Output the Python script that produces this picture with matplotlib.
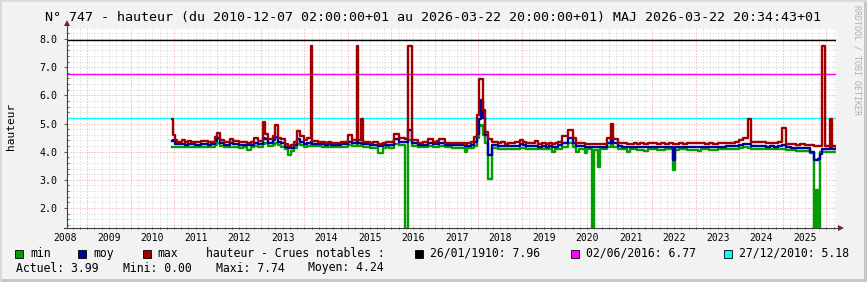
import matplotlib
matplotlib.use("Agg")
import matplotlib.pyplot as plt
from matplotlib.ticker import MultipleLocator, FixedLocator
from matplotlib.patches import Rectangle, Polygon
from matplotlib.lines import Line2D
import matplotlib.transforms as mtransforms

# hauteur station 747 : min / moy / max (annees decimales)
t = [2010.95, 2010.98, 2011.02, 2011.08, 2011.18, 2011.25, 2011.32, 2011.40, 2011.48, 2011.55,
     2011.62, 2011.70, 2011.78, 2011.85, 2011.95, 2012.00, 2012.06, 2012.14, 2012.28, 2012.36,
     2012.50, 2012.58, 2012.68, 2012.76, 2012.84, 2012.92, 2013.05, 2013.10, 2013.16, 2013.28,
     2013.33, 2013.38, 2013.46, 2013.56, 2013.62, 2013.68, 2013.76, 2013.83, 2013.90, 2013.98,
     2014.06, 2014.15, 2014.18, 2014.32, 2014.40, 2014.48, 2014.55, 2014.62, 2014.70, 2014.78,
     2014.85, 2014.92, 2015.00, 2015.10, 2015.20, 2015.23, 2015.31, 2015.34, 2015.50, 2015.58,
     2015.69, 2015.80, 2015.88, 2015.95, 2016.06, 2016.18, 2016.31, 2016.37, 2016.48, 2016.62,
     2016.72, 2016.84, 2016.95, 2017.05, 2017.10, 2017.22, 2017.30, 2017.40, 2017.52, 2017.68,
     2017.74, 2017.82, 2017.90, 2017.96, 2018.01, 2018.05, 2018.10, 2018.15, 2018.21, 2018.32,
     2018.45, 2018.52, 2018.60, 2018.68, 2018.75, 2018.85, 2018.95, 2019.02, 2019.10, 2019.20,
     2019.30, 2019.38, 2019.45, 2019.55, 2019.62, 2019.70, 2019.76, 2019.84, 2019.92, 2020.05,
     2020.17, 2020.25, 2020.32, 2020.45, 2020.50, 2020.61, 2020.66, 2020.75, 2020.80, 2020.95,
     2021.05, 2021.10, 2021.20, 2021.30, 2021.41, 2021.48, 2021.58, 2021.65, 2021.72, 2021.80,
     2021.90, 2022.00, 2022.10, 2022.20, 2022.30, 2022.38, 2022.47, 2022.52, 2022.62, 2022.70,
     2022.80, 2022.90, 2023.05, 2023.12, 2023.20, 2023.30, 2023.40, 2023.50, 2023.60, 2023.70,
     2023.80, 2023.90, 2024.00, 2024.08, 2024.20, 2024.26, 2024.36, 2024.45, 2024.52, 2024.60,
     2024.70, 2024.80, 2024.88, 2024.98, 2025.06, 2025.18, 2025.30, 2025.40, 2025.50, 2025.62,
     2025.71, 2025.755, 2025.80, 2025.86, 2025.90, 2025.97, 2026.08, 2026.13, 2026.21]

h_min = [4.15, 4.18, 4.16, 4.15, 4.16, 4.15, 4.17, 4.16, 4.15, 4.15,
         4.16, 4.16, 4.15, 4.15, 4.22, 4.30, 4.20, 4.15, 4.18, 4.16,
         4.14, 4.15, 4.06, 4.15, 4.20, 4.16, 4.28, 4.30, 4.20, 4.22,
         4.30, 4.22, 4.18, 4.10, 3.88, 4.02, 4.12, 4.28, 4.22, 4.18,
         4.20, 4.22, 4.20, 4.19, 4.18, 4.17, 4.17, 4.16, 4.16, 4.17,
         4.17, 4.18, 4.24, 4.20, 4.22, 4.20, 4.22, 4.18, 4.13, 4.14,
         3.94, 4.12, 4.15, 4.14, 4.28, 4.24, 0.00, 4.40, 4.20, 4.15,
         4.16, 4.20, 4.16, 4.17, 4.20, 4.15, 4.15, 4.14, 4.14, 4.00,
         4.12, 4.14, 4.20, 4.50, 4.90, 4.95, 4.60, 4.30, 3.03, 4.12,
         4.10, 4.11, 4.09, 4.10, 4.10, 4.09, 4.14, 4.12, 4.10, 4.09,
         4.09, 4.08, 4.09, 4.08, 4.08, 4.00, 4.08, 4.10, 4.15, 4.30,
         4.18, 4.00, 4.08, 3.94, 4.08, 0.00, 4.07, 3.45, 4.08, 4.15,
         4.30, 4.18, 4.08, 4.08, 4.00, 4.08, 4.08, 4.07, 4.07, 4.02,
         4.08, 4.08, 4.07, 4.07, 4.08, 4.08, 3.35, 4.07, 4.08, 4.08,
         4.07, 4.07, 4.02, 4.08, 4.08, 4.07, 4.07, 4.08, 4.08, 4.08,
         4.09, 4.10, 4.12, 4.15, 4.14, 4.10, 4.10, 4.09, 4.09, 4.08,
         4.09, 4.08, 4.09, 4.10, 4.06, 4.05, 4.04, 4.04, 4.03, 3.95,
         0.00, 2.64, 0.00, 3.98, 4.00, 4.00, 4.00, 3.99, 3.99]

h_moy = [4.38, 4.40, 4.28, 4.26, 4.27, 4.25, 4.27, 4.26, 4.25, 4.25,
         4.27, 4.26, 4.25, 4.26, 4.38, 4.48, 4.30, 4.25, 4.30, 4.26,
         4.24, 4.25, 4.22, 4.25, 4.32, 4.27, 4.48, 4.45, 4.32, 4.40,
         4.52, 4.36, 4.30, 4.18, 4.12, 4.12, 4.22, 4.45, 4.34, 4.28,
         4.32, 4.34, 4.28, 4.28, 4.27, 4.25, 4.26, 4.24, 4.25, 4.25,
         4.26, 4.26, 4.36, 4.30, 4.34, 4.30, 4.32, 4.26, 4.22, 4.23,
         4.20, 4.22, 4.24, 4.24, 4.45, 4.36, 4.34, 4.77, 4.30, 4.24,
         4.25, 4.32, 4.26, 4.27, 4.30, 4.24, 4.23, 4.22, 4.23, 4.20,
         4.21, 4.24, 4.34, 4.62, 5.15, 5.83, 5.20, 4.60, 3.88, 4.22,
         4.20, 4.21, 4.19, 4.20, 4.20, 4.19, 4.26, 4.22, 4.20, 4.19,
         4.19, 4.18, 4.19, 4.18, 4.19, 4.18, 4.18, 4.22, 4.30, 4.50,
         4.30, 4.20, 4.20, 4.18, 4.18, 4.16, 4.17, 4.16, 4.18, 4.30,
         4.55, 4.30, 4.19, 4.18, 4.18, 4.18, 4.18, 4.17, 4.17, 4.17,
         4.18, 4.18, 4.17, 4.18, 4.18, 4.18, 3.70, 4.17, 4.18, 4.18,
         4.18, 4.18, 4.17, 4.18, 4.18, 4.18, 4.17, 4.18, 4.18, 4.19,
         4.19, 4.21, 4.25, 4.28, 4.26, 4.20, 4.20, 4.19, 4.19, 4.18,
         4.19, 4.18, 4.19, 4.22, 4.15, 4.14, 4.13, 4.13, 4.12, 4.00,
         3.72, 3.70, 3.75, 3.92, 4.10, 4.10, 4.12, 4.10, 4.08]

h_max = [5.16, 4.58, 4.40, 4.36, 4.42, 4.34, 4.39, 4.36, 4.35, 4.33,
         4.38, 4.37, 4.34, 4.35, 4.52, 4.68, 4.42, 4.34, 4.46, 4.38,
         4.33, 4.36, 4.32, 4.36, 4.50, 4.38, 5.05, 4.62, 4.44, 4.55,
         4.94, 4.50, 4.44, 4.28, 4.20, 4.22, 4.36, 4.72, 4.55, 4.40,
         4.48, 7.74, 4.38, 4.36, 4.34, 4.31, 4.33, 4.30, 4.31, 4.32,
         4.34, 4.36, 4.58, 4.42, 7.74, 4.40, 5.16, 4.34, 4.30, 4.33,
         4.28, 4.30, 4.35, 4.34, 4.64, 4.50, 4.46, 7.74, 4.40, 4.32,
         4.35, 4.46, 4.36, 4.38, 4.45, 4.32, 4.32, 4.30, 4.31, 4.28,
         4.29, 4.34, 4.53, 5.30, 6.57, 6.57, 5.48, 4.70, 4.45, 4.35,
         4.30, 4.33, 4.28, 4.31, 4.32, 4.36, 4.40, 4.34, 4.30, 4.30,
         4.38, 4.28, 4.31, 4.27, 4.30, 4.28, 4.30, 4.36, 4.55, 4.77,
         4.48, 4.32, 4.30, 4.28, 4.28, 4.26, 4.27, 4.27, 4.28, 4.50,
         4.97, 4.44, 4.30, 4.31, 4.28, 4.27, 4.29, 4.26, 4.30, 4.28,
         4.30, 4.31, 4.27, 4.29, 4.28, 4.30, 4.26, 4.27, 4.30, 4.28,
         4.31, 4.29, 4.30, 4.31, 4.28, 4.29, 4.27, 4.30, 4.29, 4.31,
         4.32, 4.34, 4.40, 4.50, 5.15, 4.34, 4.36, 4.34, 4.35, 4.30,
         4.32, 4.30, 4.33, 4.83, 4.28, 4.27, 4.25, 4.26, 4.24, 4.22,
         4.20, 4.20, 4.20, 4.20, 7.74, 4.20, 5.16, 4.20, 4.18]

# crues notables (HRULE)
crue_dates = ["26/01/1910", "02/06/2016", "27/12/2010"]
crue_levels = [7.96, 6.77, 5.18]
crue_colors = ["#000000", "#ff00ff", "#00ffff"]

year_labels = list(range(2008, 2026))

W, H = 867, 282


def fx(px):
    return px / W


def fy(py):
    return 1 - py / H


plt.rcParams["font.family"] = "DejaVu Sans Mono"

fig = plt.figure(figsize=(W / 100, H / 100), dpi=100, facecolor="#f2f2f2")

# cadre
fig.add_artist(Rectangle((fx(864), 0), 3 / W, 1, transform=fig.transFigure, fc="#c6c6c6", ec="none"))
fig.add_artist(Rectangle((0, 0), 1, 3 / H, transform=fig.transFigure, fc="#c6c6c6", ec="none"))
fig.add_artist(Rectangle((0, 0), 2 / W, 1, transform=fig.transFigure, fc="#dadada", ec="none"))
fig.add_artist(Rectangle((0, fy(2)), 1, 2 / H, transform=fig.transFigure, fc="#dadada", ec="none"))

ax = fig.add_axes([fx(67), fy(228), (836 - 67) / W, (228 - 29) / H])
ax.set_facecolor("white")
ax.set_xlim(2008.54, 2026.22)
ax.set_ylim(1.29, 8.355)
for s in ax.spines.values():
    s.set_visible(False)

ax.xaxis.set_major_locator(MultipleLocator(1))
ax.xaxis.set_minor_locator(MultipleLocator(1 / 6))
ax.yaxis.set_major_locator(FixedLocator([2, 3, 4, 5, 6, 7, 8]))
ax.yaxis.set_minor_locator(MultipleLocator(0.2))
ax.set_yticklabels(["%.1f" % v for v in [2, 3, 4, 5, 6, 7, 8]])
ax.set_axisbelow(True)
ax.grid(which="minor", color="#d2d2d2", lw=0.72, ls=(0, (1, 2)))
ax.grid(which="major", color="#eb9a9a", lw=0.72, ls=(0, (1, 2)))
ax.tick_params(axis="x", which="both", labelbottom=False, length=2, direction="inout", color="#555555", width=0.7)
ax.tick_params(axis="y", which="major", labelsize=7.2, length=2, direction="out", pad=5, color="#555555", width=0.7)
ax.tick_params(axis="y", which="minor", length=1.5, direction="in", color="#555555", width=0.7)

trans = mtransforms.blended_transform_factory(ax.transData, ax.transAxes)
for yr in year_labels:
    ax.text(yr + 0.5, -0.052, str(yr), transform=trans, ha="center", va="center",
            fontsize=7, clip_on=False)

for lvl, col in zip(crue_levels, crue_colors):
    ax.axhline(lvl, color=col, lw=1.0, zorder=2)

ax.step(t, h_min, where="post", color="#00a000", lw=1.7, zorder=3)
ax.step(t, h_moy, where="post", color="#0000a0", lw=1.7, zorder=4)
ax.step(t, h_max, where="post", color="#a00000", lw=1.7, zorder=5)

fig.text(fx(11), fy(126), "hauteur", rotation=90, ha="center", va="center", fontsize=8)

# axes + fleches
fig.add_artist(Line2D([fx(67), fx(67)], [fy(228), fy(24)], transform=fig.transFigure, color="#404040", lw=0.8))
fig.add_artist(Line2D([fx(64), fx(839)], [fy(228), fy(228)], transform=fig.transFigure, color="#404040", lw=0.8))
fig.add_artist(Polygon([[fx(64), fy(26)], [fx(70), fy(26)], [fx(67), fy(20)]], closed=True,
                       transform=fig.transFigure, fc="#8b1a1a", ec="none"))
fig.add_artist(Polygon([[fx(838), fy(225)], [fx(838), fy(231)], [fx(844), fy(228)]], closed=True,
                       transform=fig.transFigure, fc="#8b1a1a", ec="none"))

fig.text(fx(433), fy(18),
         "N° 747 - hauteur (du 2010-12-07 02:00:00+01 au 2026-03-22 20:00:00+01) MAJ 2026-03-22 20:34:43+01",
         ha="center", va="center", fontsize=9.6)
fig.text(fx(857), fy(60), "RRDTOOL / TOBI OETIKER", rotation=270, ha="center", va="center",
         fontsize=6, color="#b0b0b0")


# legende
def box(x, col):
    fig.add_artist(Rectangle((fx(x), fy(258)), 8 / W, 8.5 / H, transform=fig.transFigure,
                             fc=col, ec="black", lw=0.6))


row1 = fy(253.5)
box(15, "#00a000")
fig.text(fx(30), row1, "min", va="center", fontsize=8.3)
box(78, "#0000a0")
fig.text(fx(93), row1, "moy", va="center", fontsize=8.3)
box(143, "#a00000")
fig.text(fx(157), row1, "max", va="center", fontsize=8.3)
fig.text(fx(206), row1, "hauteur - Crues notables :", va="center", fontsize=8.3)
for bx, d, lvl, col in zip([415, 571, 724], crue_dates, crue_levels, crue_colors):
    box(bx, col)
    fig.text(fx(bx + 15), row1, "%s: %.2f" % (d, lvl), va="center", fontsize=8.3)

row2 = fy(268)
fig.text(fx(16), row2, "Actuel: %.2f" % h_min[-1], va="center", fontsize=8.3)
fig.text(fx(123), row2, "Mini: %.2f" % min(h_min), va="center", fontsize=8.3)
fig.text(fx(216), row2, "Maxi: %.2f" % max(h_max), va="center", fontsize=8.3)
fig.text(fx(308), row2, "Moyen: 4.24", va="center", fontsize=8.3)

fig.savefig("out.png", dpi=100, facecolor=fig.get_facecolor())
